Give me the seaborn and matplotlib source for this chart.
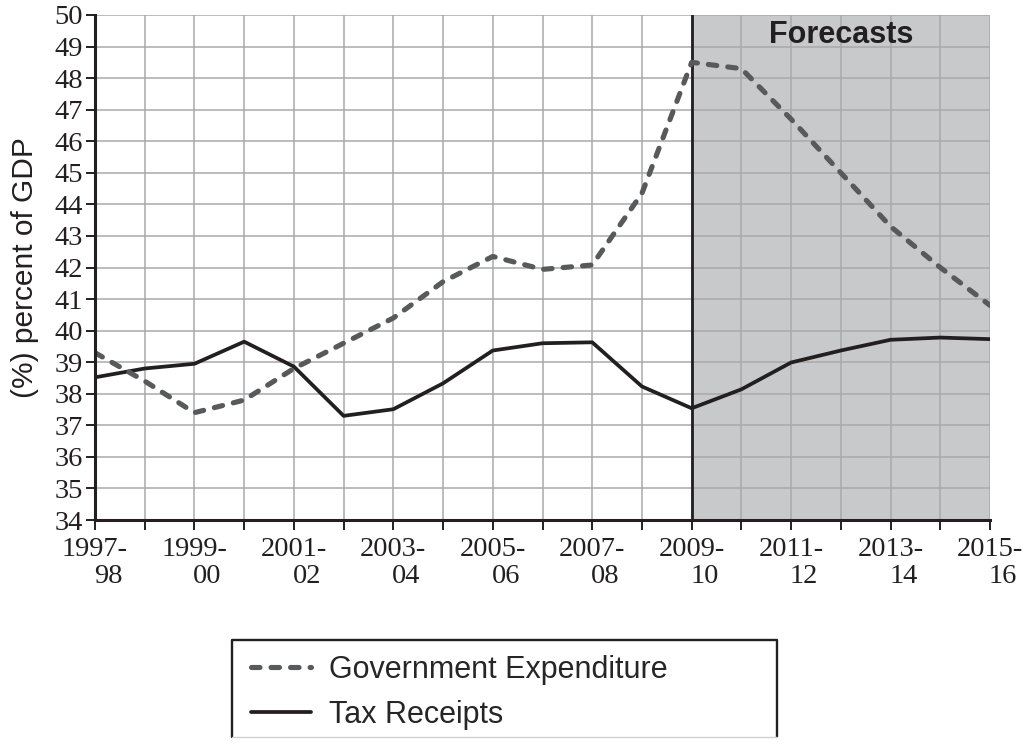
import numpy as np
import pandas as pd
import matplotlib
matplotlib.use("Agg")
import matplotlib.pyplot as plt
import seaborn as sns
from matplotlib.lines import Line2D

# ---------------- data ----------------
periods = ["1997-98", "1998-99", "1999-00", "2000-01", "2001-02", "2002-03",
           "2003-04", "2004-05", "2005-06", "2006-07", "2007-08", "2008-09",
           "2009-10", "2010-11", "2011-12", "2012-13", "2013-14", "2014-15",
           "2015-16"]
gov_expenditure = [39.3, 38.4, 37.4, 37.8, 38.8, 39.6, 40.4, 41.55, 42.35, 41.94,
                   42.08, 44.35, 48.5, 48.3, 46.7, 45.0, 43.3, 42.0, 40.8]
tax_receipts = [38.52, 38.8, 38.95, 39.65, 38.86, 37.3, 37.51, 38.33, 39.37, 39.6,
                39.63, 38.23, 37.54, 38.14, 38.99, 39.37, 39.71, 39.78, 39.73]
series_names = ["Government Expenditure", "Tax Receipts"]
y_ticks = list(range(34, 51))
forecast_start = "2009-10"
forecast_label = "Forecasts"
y_label = "(%) percent of GDP"

SERIF = "Liberation Serif"
SANS = "Liberation Sans"
DARK = "#231f20"
GREY_LINE = "#58595b"

sns.set_theme(style="white")
plt.rcParams["font.family"] = [SANS, "DejaVu Sans"]

x_idx = np.arange(len(periods))
df = pd.DataFrame({"idx": x_idx, "period": periods,
                   series_names[0]: gov_expenditure,
                   series_names[1]: tax_receipts})

fig = plt.figure(figsize=(10.3, 7.45), dpi=100)
ax = fig.add_axes([95 / 1030, 1 - 520 / 745, 895 / 1030, 505 / 745])

# forecast shading
fs = periods.index(forecast_start)
ax.axvspan(fs, len(periods) - 1, color="#c8c9cb", zorder=0, lw=0)

sns.lineplot(data=df, x="idx", y=series_names[0], ax=ax, color=GREY_LINE,
             lw=3.7, label=series_names[0], zorder=4)
sns.lineplot(data=df, x="idx", y=series_names[1], ax=ax, color=DARK,
             lw=2.7, label=series_names[1], zorder=3)
lines = ax.get_lines()
lines[0].set_dashes((1.65, 2.15))
lines[0].set_dash_capstyle("round")
lines[0].set_dash_joinstyle("round")
lines[1].set_solid_joinstyle("round")

ax.axvline(fs, color=DARK, lw=2.0, zorder=2.5)

ax.set_xlim(0, len(periods) - 1)
ax.set_ylim(y_ticks[0], y_ticks[-1])
ax.set_axisbelow(True)
ax.grid(True, color="#a9a9a9", lw=1.1)

ax.set_yticks(y_ticks)
ax.set_yticklabels([str(v) for v in y_ticks], fontsize=20.5, family=SERIF, color=DARK)
ax.set_xticks(x_idx)
top_lines = [p.split("-")[0] + "-" if i % 2 == 0 else "" for i, p in enumerate(periods)]
ax.set_xticklabels(top_lines, fontsize=20.5, family=SERIF, color=DARK)
for i, p in enumerate(periods):
    if i % 2 == 0:
        ax.annotate(p.split("-")[1], xy=(i, 0), xycoords=("data", "axes fraction"),
                    xytext=(9.4, -32.0), textcoords="offset points",
                    ha="center", va="top", fontsize=20.5, family=SERIF, color=DARK,
                    annotation_clip=False)

ax.tick_params(axis="x", direction="out", length=7, width=1.4, color=DARK, pad=5)
ax.tick_params(axis="y", direction="out", length=6.5, width=1.4, color=DARK, pad=2)
ax.tick_params(bottom=True, left=True)

for s in ["top", "right"]:
    ax.spines[s].set_visible(False)
for s in ["left", "bottom"]:
    ax.spines[s].set_color(DARK)
    ax.spines[s].set_linewidth(2.2)
    ax.spines[s].set_zorder(5)

ax.set_xlabel("")
ax.set_ylabel(y_label, fontsize=21.5, family=SANS, color=DARK)
ax.yaxis.set_label_coords(-0.063, 0.5)

ax.text((fs + len(periods) - 1) / 2, 49.11, forecast_label, ha="center", va="baseline",
        fontsize=22, fontweight="bold", family=SANS, color=DARK, zorder=6)

handles, labels = ax.get_legend_handles_labels()
ax.get_legend().remove()
fig.legend(handles, labels, loc="upper left",
           bbox_to_anchor=(251 / 1030, 1 - 655 / 745),
           frameon=False, borderpad=0, borderaxespad=0,
           handlelength=1.95, handletextpad=0.6, labelspacing=0.48,
           prop={"family": SANS, "size": 22})

# legend frame (cut off at bottom)
x0, x1 = 232 / 1030, 777 / 1030
yt, yb = 1 - 640 / 745, 1 - 737 / 745
fig.add_artist(Line2D([x0, x0, x1, x1], [yb, yt, yt, yb], transform=fig.transFigure,
                      color=DARK, lw=1.7))
fig.add_artist(Line2D([x0, x1], [yb, yb], transform=fig.transFigure,
                      color="#d0d0d0", lw=1.0))

fig.savefig("out.png", dpi=100, facecolor="white")
